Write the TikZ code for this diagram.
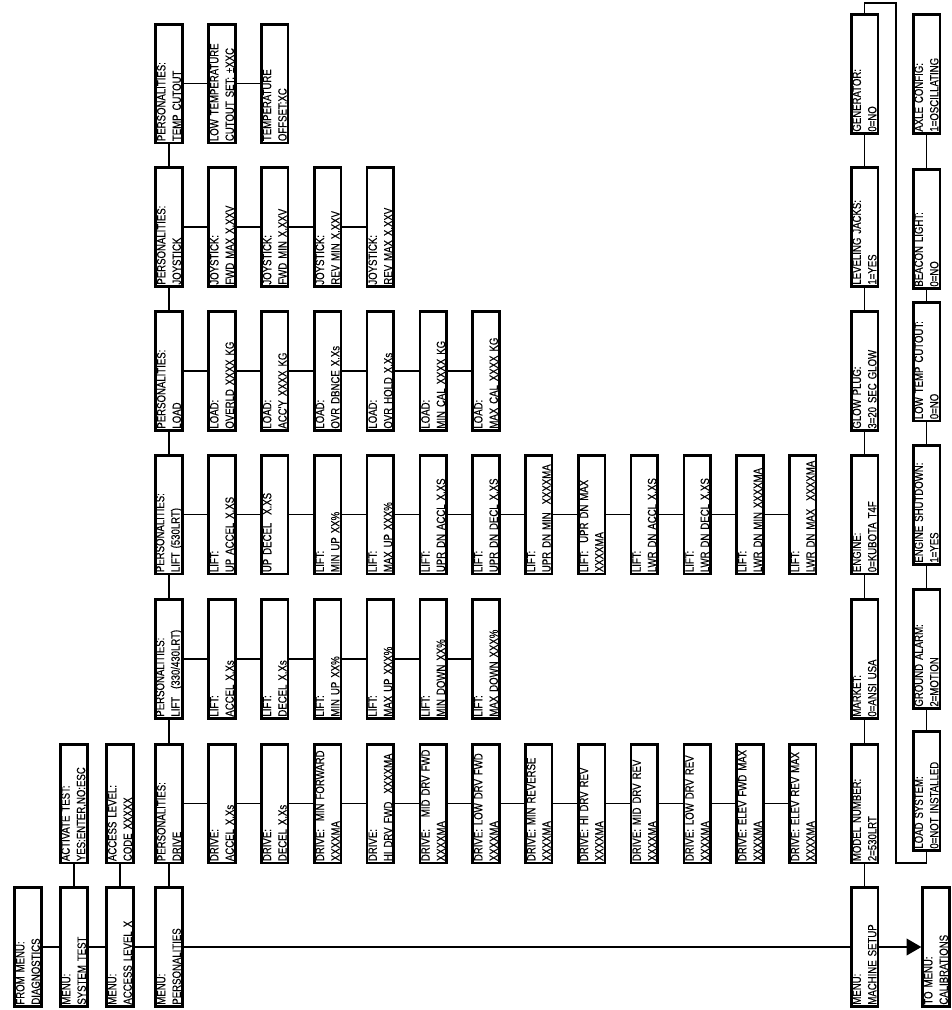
\documentclass[tikz,border=0pt]{standalone}
\usepackage{fontspec}
\newfontfamily\cond[FakeStretch=0.8,FakeBold=0.3]{Liberation Sans}
\usetikzlibrary{arrows.meta}
\begin{document}
\begin{tikzpicture}[x=0.75pt,y=-0.75pt,
  bx/.style={draw, line width=2pt, rotate=90, minimum width=89pt, minimum height=20pt,
    inner xsep=1.3pt, inner ysep=0pt, text width=86.4pt, align=left,
    font=\cond\fontsize{9pt}{11.6pt}\selectfont},
  ln/.style={line width=1.1pt}]
\useasboundingbox (0,0) rectangle (952,1010);

% ---- row A (main menu line)
\node[bx] (diag) at (28,947) {FROM MENU:\\DIAGNOSTICS};
\node[bx] (systest) at (74,947) {MENU:\\SYSTEM TEST};
\node[bx] (access) at (120,947) {MENU:\\ACCESS LEVEL X};
\node[bx] (pers) at (169,947) {MENU:\\PERSONALITIES};
\node[bx] (msetup) at (864.5,947) {MENU:\\MACHINE SETUP};
\node[bx] (calib) at (936,947) {TO MENU:\\CALIBRATIONS};

\node[bx] (activ) at (74,803.5) {ACTIVATE TEST:\\YES:ENTER,NO:ESC};
\node[bx] (code) at (120,803.5) {ACCESS LEVEL:\\CODE XXXXX};

% ---- personalities column
\node[bx] (pdrive) at (169,803.5) {PERSONALITIES:\\DRIVE};
\node[bx] (plifta) at (169,659) {PERSONALITIES:\\LIFT\ \ (330/430LRT)};
\node[bx] (pliftb) at (169,514.5) {PERSONALITIES:\\LIFT (530LRT)};
\node[bx] (pload) at (169,371) {PERSONALITIES:\\LOAD};
\node[bx] (pjoy) at (169,227) {PERSONALITIES:\\JOYSTICK};
\node[bx] (ptemp) at (169,83.5) {PERSONALITIES:\\TEMP CUTOUT};

% ---- drive items
\foreach \t [count=\k from 0] in {
  {DRIVE:\\ACCEL X.Xs},{DRIVE:\\DECEL X.Xs},{DRIVE:\ \ MIN FORWARD\\XXXXMA},
  {DRIVE:\\HI DRV FWD\ \ XXXXMA},{DRIVE:\ \ \ MID DRV FWD\\XXXXMA},
  {DRIVE: LOW DRV FWD\\XXXXMA},{DRIVE: MIN REVERSE\\XXXXMA},{DRIVE: HI DRV REV\\XXXXMA},
  {DRIVE: MID DRV REV\\XXXXMA},{DRIVE: LOW DRV REV\\XXXXMA},
  {DRIVE: ELEV FWD MAX\\XXXXMA},{DRIVE: ELEV REV MAX\\XXXXMA}}
  \node[bx] (d\k) at ({222+52.8*\k},803.5) {\t};

% ---- lift 330/430 items
\foreach \t [count=\k from 0] in {
  {LIFT:\\ACCEL X.Xs},{LIFT:\\DECEL X.Xs},{LIFT:\\MIN UP XX\%},
  {LIFT:\\MAX UP XXX\%},{LIFT:\\MIN DOWN XX\%},{LIFT:\\MAX DOWN XXX\%}}
  \node[bx] (la\k) at ({222+52.8*\k},659) {\t};

% ---- lift 530 items
\foreach \t [count=\k from 0] in {
  {LIFT:\\UP ACCEL X.XS},{UP DECEL\ \ X.XS\\\phantom{X}},{LIFT:\\MIN UP XX\%},
  {LIFT:\\MAX UP XXX\%},{LIFT:\\UPR DN ACCL X.XS},{LIFT:\\UPR DN DECL X.XS},
  {LIFT:\\UPR DN MIN\ \ XXXXMA},{LIFT:\ \ UPR DN MAX\\XXXXMA},
  {LIFT:\\LWR DN ACCL X.XS},{LIFT:\\LWR DN DECL X.XS},
  {LIFT:\\LWR DN MIN XXXXMA},{LIFT:\\LWR DN MAX\ \ XXXXMA}}
  \node[bx] (lb\k) at ({222+52.8*\k},514.5) {\t};

% ---- load items
\foreach \t [count=\k from 0] in {
  {LOAD:\\OVERLD XXXX KG},{LOAD:\\ACC'Y XXXX KG},{LOAD:\\OVR DBNCE X.Xs},
  {LOAD:\\OVR HOLD X.Xs},{LOAD:\\MIN CAL XXXX KG},{LOAD:\\MAX CAL XXXX KG}}
  \node[bx] (lo\k) at ({222+52.8*\k},371) {\t};

% ---- joystick items
\foreach \t [count=\k from 0] in {
  {JOYSTICK:\\FWD MAX X.XXV},{JOYSTICK:\\FWD MIN X.XXV},
  {JOYSTICK:\\REV MIN X.XXV},{JOYSTICK:\\REV MAX X.XXV}}
  \node[bx] (j\k) at ({222+52.8*\k},227) {\t};

% ---- temp items
\node[bx] (t0) at (222,83.5) {LOW TEMPERATURE\\CUTOUT SET: ±XXC};
\node[bx] (t1) at (274.8,83.5) {TEMPERATURE\\OFFSET:XC};

% ---- machine setup column
\node[bx] (model) at (864.5,803.5) {MODEL NUMBER:\\2=530LRT};
\node[bx] (market) at (864.5,659) {MARKET:\\0=ANSI USA};
\node[bx] (engine) at (864.5,514.5) {ENGINE:\\0=KUBOTA T4F};
\node[bx] (glow) at (864.5,371) {GLOW PLUG:\\3=20 SEC GLOW};
\node[bx] (jacks) at (864.5,227) {LEVELING JACKS:\\1=YES};
\node[bx] (gen) at (864.5,74) {GENERATOR:\\0=NO};

\node[bx] (loadsys) at (926.5,791) {LOAD SYSTEM:\\0=NOT INSTALLED};
\node[bx] (ground) at (926.5,649) {GROUND ALARM:\\2=MOTION};
\node[bx] (engshut) at (926.5,505) {ENGINE SHUTDOWN:\\1=YES};
\node[bx] (lowtemp) at (926.5,361.5) {LOW TEMP CUTOUT:\\0=NO};
\node[bx] (beacon) at (926.5,229) {BEACON LIGHT:\\0=NO};
\node[bx] (axle) at (926.5,74) {AXLE CONFIG:\\1=OSCILLATING};

% ---- connectors
\foreach \a/\b in {diag/systest, systest/access, access/pers, pers/msetup,
  systest/activ, access/code,
  pers/pdrive, pdrive/plifta, plifta/pliftb, pliftb/pload, pload/pjoy, pjoy/ptemp,
  pdrive/d0, plifta/la0, pliftb/lb0, pload/lo0, pjoy/j0, ptemp/t0, t0/t1,
  msetup/model, model/market, market/engine, engine/glow, glow/jacks, jacks/gen,
  loadsys/ground, ground/engshut, engshut/lowtemp, lowtemp/beacon, beacon/axle}
  \draw[ln] (\a) -- (\b);
\foreach \i [evaluate=\i as \j using int(\i+1)] in {0,...,10} {
  \draw[ln] (d\i) -- (d\j);
  \draw[ln] (lb\i) -- (lb\j);
}
\foreach \i [evaluate=\i as \j using int(\i+1)] in {0,...,4} {
  \draw[ln] (la\i) -- (la\j);
  \draw[ln] (lo\i) -- (lo\j);
}
\foreach \i [evaluate=\i as \j using int(\i+1)] in {0,...,2}
  \draw[ln] (j\i) -- (j\j);

\coordinate (lt1) at (864.5,3);
\coordinate (lt2) at (896,3);
\coordinate (lb2) at (896,863);
\coordinate (lb1) at (926.5,863);
\draw[ln] (gen) -- (lt1) -- (lt2) -- (lb2) -- (lb1) -- (loadsys);

\draw[ln,-{Triangle[length=11pt,width=12.5pt]}] (msetup) -- (calib);
\end{tikzpicture}
\end{document}
